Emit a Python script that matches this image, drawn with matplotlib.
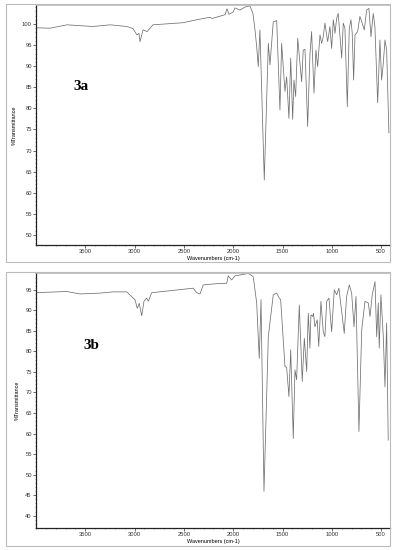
import numpy as np
import matplotlib.pyplot as plt
from matplotlib.patches import Rectangle
from matplotlib.ticker import MultipleLocator

plt.close('all')

# spectrum 3a
wn_a = [4000, 3858, 3686, 3554, 3422, 3250, 3077, 3016, 2976, 2956, 2945, 2915, 2874, 2814,
        2509, 2370, 2236, 2215, 2083, 2063, 2043, 2002, 1982, 1931, 1881, 1830, 1800,
        1779, 1762, 1746, 1729, 1685, 1644, 1627, 1594, 1559, 1526, 1509, 1475, 1458,
        1435, 1417, 1397, 1384, 1367, 1346, 1306, 1290, 1272, 1245, 1222, 1205, 1181,
        1161, 1144, 1120, 1103, 1087, 1070, 1042, 1019, 1002, 985, 968, 951, 935, 900,
        884, 867, 843, 823, 806, 793, 779, 765, 738, 715, 698, 671, 647, 624, 603, 580,
        563, 535, 512, 495, 478, 461, 444, 421]
t_a = [99.1, 99.0, 99.8, 99.6, 99.4, 99.8, 99.4, 98.9, 97.4, 97.8, 95.8, 98.6, 98.2, 99.8,
       100.3, 101.0, 101.6, 101.3, 102.2, 103.6, 102.3, 102.8, 103.8, 103.3, 104.0, 104.3, 102.5,
       98.6, 94.6, 89.9, 98.6, 63.0, 95.4, 90.3, 100.5, 100.8, 79.6, 95.4, 84.0, 87.5,
       77.6, 91.9, 77.4, 86.7, 82.8, 96.6, 86.3, 93.8, 94.0, 75.7, 92.7, 98.2, 83.6,
       93.8, 89.9, 97.4, 95.4, 97.0, 100.2, 95.8, 99.4, 94.2, 101.0, 97.8, 101.3, 102.5, 91.9,
       100.2, 99.0, 80.4, 99.0, 101.0, 97.8, 86.7, 97.4, 98.2, 101.8, 100.6, 98.6, 103.3, 103.7, 97.0, 102.5,
       99.4, 81.3, 96.2, 86.7, 90.7, 96.2, 93.8, 74.2]

# spectrum 3b
wn_b = [4000, 3689, 3554, 3351, 3219, 3080, 2996, 2973, 2953, 2928, 2905, 2878, 2861, 2827,
        2405, 2371, 2337, 2304, 2168, 2066, 2050, 2016, 1982, 1931, 1847, 1797, 1762,
        1736, 1718, 1688, 1644, 1594, 1559, 1533, 1519, 1475, 1458, 1435, 1417, 1391,
        1374, 1357, 1330, 1300, 1279, 1255, 1239, 1222, 1212, 1194, 1186, 1171, 1148,
        1133, 1110, 1087, 1070, 1052, 1029, 1002, 975, 951, 928, 900, 874, 850, 823,
        799, 775, 755, 725, 697, 664, 630, 613, 590, 562, 545, 529, 519, 502, 478,
        461, 444, 428]
t_b = [94.3, 94.6, 94.0, 94.2, 94.5, 94.5, 92.6, 90.5, 91.7, 88.7, 92.2, 93.0, 92.2, 94.3,
       95.4, 94.3, 94.0, 96.2, 96.5, 96.6, 98.4, 97.4, 98.4, 98.6, 99.0, 98.2, 91.8,
       78.3, 92.6, 45.9, 83.6, 93.8, 94.2, 93.0, 92.6, 76.3, 76.1, 69.0, 80.4, 58.8,
       75.5, 73.1, 91.3, 72.7, 83.2, 75.1, 89.3, 80.8, 88.9, 88.5, 89.3, 86.0, 87.7,
       81.2, 92.2, 84.8, 83.6, 92.2, 93.0, 84.8, 95.0, 93.8, 95.4, 89.7, 84.4, 93.4, 96.2,
       94.2, 86.0, 93.4, 60.5, 85.2, 92.2, 91.8, 88.5, 93.8, 97.0, 83.6, 91.8, 80.8, 93.8, 83.6,
       71.4, 86.9, 58.4]

x_ticks = [3500, 3000, 2500, 2000, 1500, 1000, 500]

fig = plt.figure(figsize=(3.95, 5.5), dpi=100)

# outer frames from the scan
fig.patches.append(Rectangle((6 / 395, 1 - 262 / 550), 384 / 395, 258 / 550,
                             transform=fig.transFigure, fill=False, ec='#bbbbbb', lw=0.8))
fig.patches.append(Rectangle((6 / 395, 1 - 546 / 550), 384 / 395, 274 / 550,
                             transform=fig.transFigure, fill=False, ec='#bbbbbb', lw=0.8))

panels = [
    (wn_a, t_a, [36 / 395, 1 - 245 / 550, 354 / 395, 240 / 550], (47.6, 104.5), np.arange(50, 101, 5), '3a', (0.105, 0.66), 1 - 258.5 / 550),
    (wn_b, t_b, [36 / 395, 1 - 528 / 550, 354 / 395, 255 / 550], (37.0, 99.1), np.arange(40, 96, 5), '3b', (0.133, 0.714), 1 - 541.5 / 550),
]

for wn, t, pos, ylim, yt, tag, tpos, xlab_y in panels:
    ax = fig.add_axes(pos)
    ax.plot(wn, t, color='#707070', lw=0.55)
    ax.set_xlim(4000, 410)
    ax.set_ylim(*ylim)
    ax.set_xticks(x_ticks)
    ax.set_yticks(yt)
    ax.xaxis.set_minor_locator(MultipleLocator(100))
    ax.yaxis.set_minor_locator(MultipleLocator(1))
    ax.tick_params(labelsize=4.2, length=2, width=0.5, pad=1, colors='#333333')
    ax.tick_params(which='minor', length=1, width=0.4, colors='#555555')
    for lab in ax.get_xticklabels() + ax.get_yticklabels():
        lab.set_family('Liberation Sans')
    for s in ['top', 'right']:
        ax.spines[s].set_color('#bbbbbb')
        ax.spines[s].set_linewidth(0.6)
    for s in ['left', 'bottom']:
        ax.spines[s].set_color('#222222')
        ax.spines[s].set_linewidth(0.9)
    ax.set_ylabel('%Transmittance', fontsize=4, family='Liberation Sans', labelpad=4)
    fig.text(213 / 395, xlab_y, 'Wavenumbers (cm-1)', fontsize=4, family='Liberation Sans',
             ha='center', va='center')
    ax.text(tpos[0], tpos[1], tag, transform=ax.transAxes, fontsize=11, fontweight='bold',
            family='Liberation Serif', va='center')

fig.savefig('out.png', dpi=100)
